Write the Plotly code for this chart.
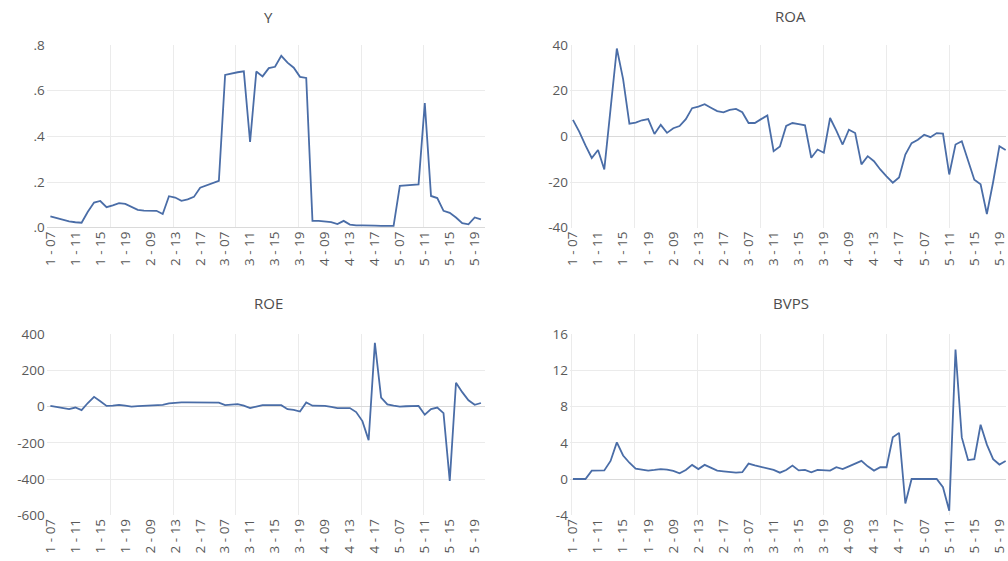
import plotly.graph_objects as go

# ---- data ----
entities = ["1", "2", "3", "4", "5"]
years = ["07", "08", "09", "10", "11", "12", "13", "14", "15", "16", "17", "18", "19", "20"]
obs_labels = [f"{e} - {y}" for e in entities for y in years]

y_vals = [0.050, 0.042, 0.035, 0.028, 0.024, 0.022, 0.070, 0.110, 0.117, 0.090,
          0.098, 0.108, 0.104, 0.092, 0.078, 0.075, 0.076, 0.074, 0.060, 0.138,
          0.132, 0.118, 0.124, 0.135, 0.175, 0.185, 0.192, 0.205, 0.668, 0.675,
          0.680, 0.684, 0.375, 0.683, 0.662, 0.698, 0.704, 0.752, 0.722, 0.700,
          0.660, 0.655, 0.030, 0.030, 0.028, 0.025, 0.016, 0.030, 0.014, 0.010,
          0.010, 0.008, 0.009, 0.008, 0.008, 0.008, 0.183, 0.185, 0.187, 0.190,
          0.545, 0.139, 0.130, 0.074, 0.065, 0.045, 0.020, 0.015, 0.045, 0.037]

roa_vals = [7.2, 2.0, -4.0, -9.5, -6.0, -14.5, 12.0, 38.4, 25.0, 5.5,
            6.0, 7.0, 7.5, 1.0, 5.0, 1.5, 3.5, 4.5, 7.5, 12.3,
            13.0, 14.0, 12.5, 11.0, 10.5, 11.5, 12.0, 10.5, 5.8, 5.8,
            7.5, 9.1, -6.5, -4.5, 4.5, 5.8, 5.3, 4.8, -9.4, -5.8,
            -7.2, 8.0, 2.5, -3.6, 2.9, 1.4, -12.3, -8.7, -10.9, -14.5,
            -17.5, -20.3, -18.0, -8.0, -3.0, -1.5, 0.7, -0.4, 1.4, 1.2,
            -16.7, -3.6, -2.2, -11.0, -19.0, -21.0, -34.0, -20.0, -4.3, -6.0]

roe_vals = [4, -3, -10, -14, -5, -19, 20, 54, 30, 4,
            6, 10, 5, 0, 3, 5, 6, 8, 10, 18,
            22, 23, 23, 23, 23, 23, 23, 22, 8, 10,
            14, 5, -8, 0, 8, 8, 8, 8, -14, -18,
            -27, 23, 5, 4, 4, -2, -8, -8, -8, -30,
            -80, -185, 352, 50, 12, 5, 0, 2, 3, 4,
            -45, -14, -5, -36, -410, 132, 80, 35, 10, 20]

bvps_vals = [0, 0, 0, 0.93, 0.93, 0.95, 2.0, 4.05, 2.6, 1.8,
             1.15, 1.0, 0.93, 1.0, 1.1, 1.05, 0.9, 0.64, 1.0, 1.56,
             1.1, 1.56, 1.25, 0.93, 0.85, 0.8, 0.7, 0.75, 1.7, 1.5,
             1.35, 1.2, 1.0, 0.7, 1.0, 1.48, 0.95, 1.0, 0.75, 1.0,
             1.0, 0.93, 1.3, 1.1, 1.4, 1.7, 2.0, 1.4, 0.93, 1.3,
             1.3, 4.6, 5.1, -2.7, 0, 0, 0, 0, 0, -0.9,
             -3.5, 14.3, 4.6, 2.1, 2.2, 6.0, 3.8, 2.2, 1.6, 2.0]

tick_labels = ["1 - 07", "1 - 11", "1 - 15", "1 - 19", "2 - 09", "2 - 13", "2 - 17",
               "3 - 07", "3 - 11", "3 - 15", "3 - 19", "4 - 09", "4 - 13", "4 - 17",
               "5 - 07", "5 - 11", "5 - 15", "5 - 19"]

titles = ["Y", "ROA", "ROE", "BVPS"]
series = [y_vals, roa_vals, roe_vals, bvps_vals]
y_ticks = [[0, 0.2, 0.4, 0.6, 0.8], [-40, -20, 0, 20, 40],
           [-600, -400, -200, 0, 200, 400], [-4, 0, 4, 8, 12, 16]]
y_ticktext = [[".0", ".2", ".4", ".6", ".8"], ["-40", "-20", "0", "20", "40"],
              ["-600", "-400", "-200", "0", "200", "400"], ["-4", "0", "4", "8", "12", "16"]]

# ---- layout geometry (page pixels) ----
W, H = 1008, 561
x_dom = [[40 / W, 482 / W], [568 / W, 1.0], [40 / W, 482 / W], [568 / W, 1.0]]
y_dom = [[1 - 226 / H, 1 - 37 / H], [1 - 226 / H, 1 - 37 / H],
         [1 - 523 / H, 1 - 336 / H], [1 - 523 / H, 1 - 336 / H]]
x_rng = [[-0.6, 69.6], [-0.48, 69.05], [-0.6, 69.6], [-0.48, 69.05]]
minor_t0 = [9.6, 9.8, 9.6, 9.8]
title_pos = [(264, 8), (791, 7), (264, 304), (791, 304)]

line_color = "#4A6DA7"
grid_color = "#EBEBEB"
font_fam = "Open Sans, Liberation Sans, sans-serif"

x_idx = list(range(len(obs_labels)))
tick_idx = [obs_labels.index(t) for t in tick_labels]

fig = go.Figure()
layout = dict(width=W, height=H, margin=dict(l=0, r=0, t=0, b=0), autosize=False,
              paper_bgcolor="white", plot_bgcolor="white", showlegend=False,
              font=dict(family=font_fam, size=11, color="#555555"))
annotations = []
for i in range(4):
    n = "" if i == 0 else str(i + 1)
    fig.add_trace(go.Scatter(x=x_idx, y=series[i], mode="lines",
                             line=dict(color=line_color, width=1.8),
                             xaxis="x" + n, yaxis="y" + n, hoverinfo="skip"))
    yrng = [min(y_ticks[i]), max(y_ticks[i])]
    layout["xaxis" + n] = dict(domain=x_dom[i], range=x_rng[i], anchor="y" + n,
                               tickmode="array", tickvals=tick_idx, ticktext=tick_labels,
                               tickangle=-90, showgrid=False, zeroline=False,
                               showline=False, ticks="", ticklabeloverflow="allow",
                               tickfont=dict(size=13.5, color="#595959"),
                               minor=dict(showgrid=True, tick0=minor_t0[i], dtick=10.05,
                                          gridcolor=grid_color, gridwidth=1, ticks=""))
    layout["yaxis" + n] = dict(domain=y_dom[i], range=yrng, anchor="x" + n,
                               tickmode="array", tickvals=y_ticks[i], ticktext=y_ticktext[i],
                               showgrid=True, gridcolor=grid_color, gridwidth=1,
                               zeroline=True, zerolinecolor="#DADADA", zerolinewidth=1,
                               showline=False, ticks="", ticklabelstandoff=1,
                               tickfont=dict(size=13.5, color="#595959"))
    tx, ty = title_pos[i]
    annotations.append(dict(text=titles[i], x=tx / W, y=1 - ty / H, xref="paper", yref="paper",
                            showarrow=False, xanchor="center", yanchor="middle",
                            font=dict(size=15, color="#4D4D4D", family=font_fam)))
layout["annotations"] = annotations
fig.update_layout(**layout)

# pin the graph to the top-left corner of the window (no body margin, no scrolling)
pin_js = ("document.documentElement.style.overflow='hidden';"
          "document.body.style.margin='0';document.body.style.overflow='hidden';"
          "var gd=document.getElementById('{plot_id}');"
          "gd.style.position='fixed';gd.style.left='0px';gd.style.top='0px';")
fig.write_html("out.html", post_script=pin_js,
               config={"displayModeBar": False, "staticPlot": True})
